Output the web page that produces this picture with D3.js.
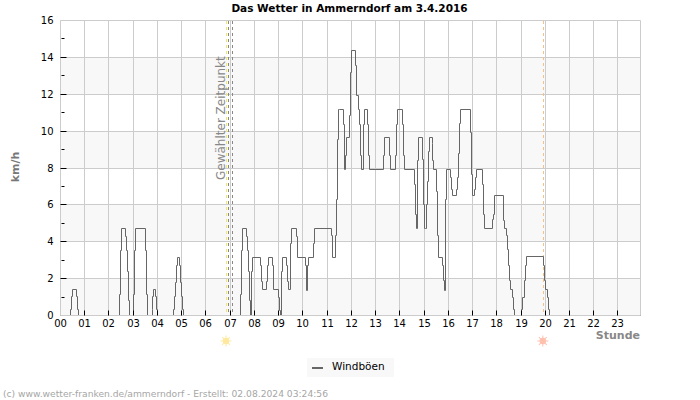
<!DOCTYPE html>
<html>
<head>
<meta charset="utf-8">
<script src="https://d3js.org/d3.v7.min.js"></script>
<style>
    html, body { margin: 0; padding: 0; background: #fff; }
    text { font-family: "DejaVu Sans", sans-serif; }
</style>
</head>
<body>
<div id="chart"></div>
<script>
// hour of day where the gust value changes
var gustHours = [0, .43, .47, .51, .67, .71, .76, 2.45, 2.49, 2.53, 2.69, 2.73, 2.78, 2.82, 2.86,
    3.02, 3.06, 3.10, 3.52, 3.56, 3.6, 3.78, 3.81, 3.85, 3.93, 3.97, 4.01,
    4.67, 4.71, 4.75, 4.79, 4.84, 4.92, 4.96, 5.0, 5.04, 5.08,
    7.43, 7.47, 7.51, 7.68, 7.72, 7.76, 7.80, 7.85, 7.885, 7.93, 8.255, 8.30, 8.34, 8.50, 8.54, 8.585,
    8.75, 8.79, 8.997, 9.038, 9.08, 9.12, 9.16, 9.33, 9.37, 9.41, 9.49, 9.53, 9.74, 9.78,
    10.11, 10.15, 10.19, 10.23, 10.44, 10.48, 11.18, 11.22, 11.35, 11.39, 11.43, 11.47, 11.51,
    11.68, 11.72, 11.76, 11.8, 11.92, 11.96, 12.0, 12.17, 12.21, 12.29, 12.33, 12.38, 12.42, 12.5, 12.54,
    12.665, 12.71, 12.75, 13.32, 13.365, 13.57, 13.61, 13.82, 13.86, 13.9, 14.11, 14.15, 14.19,
    14.60, 14.64, 14.68, 14.72, 14.77, 14.93, 14.97, 15.01, 15.05, 15.10, 15.14, 15.18, 15.22,
    15.33, 15.36, 15.4, 15.51, 15.55, 15.59, 15.755, 15.8, 15.84, 15.88, 15.92, 16.085, 16.13, 16.17,
    16.33, 16.37, 16.415, 16.46, 16.5, 16.92, 16.96, 16.99, 17.07, 17.115, 17.157, 17.40, 17.445, 17.49,
    17.82, 17.857, 17.9, 18.27, 18.31, 18.39, 18.43, 18.475, 18.52, 18.56, 18.64, 18.68, 18.72,
    19.01, 19.05, 19.13, 19.18, 19.22, 19.92, 19.96, 20.0, 20.08, 20.12, 20.165, 23.93];
var gustKmh = [0, .33, 1.03, 1.39, 1.03, .33, 0, 1.14, 3.53, 4.7, 4.29, 3.53, 2.39, .81, 0,
    1.14, 3.53, 4.7, 3.53, 1.14, 0, .33, 1.03, 1.39, 1.03, .33, 0,
    .33, 1.03, 1.8, 2.71, 3.16, 2.71, 1.8, 1.03, .33, 0,
    1.14, 3.53, 4.7, 4.29, 3.53, 2.39, .81, 0, 2.39, 3.16, 2.71, 1.86, 1.39, 1.86, 2.71, 3.16,
    2.71, 1.39, 1.0, .27, 0, 2.39, 3.16, 2.71, 1.86, 1.39, 3.89, 4.7, 4.29, 3.16,
    2.71, 1.36, 2.71, 3.16, 3.89, 4.7, 4.34, 3.16, 4.34, 6.27, 9.55, 11.16, 11.16,
    10.34, 7.9, 8.7, 9.67, 10.85, 13.16, 14.36, 13.56, 11.93, 11.16, 10.34, 8.7, 7.9, 10.34, 11.16,
    10.34, 8.7, 7.9, 8.7, 9.67, 8.7, 7.9, 8.7, 10.34, 11.16, 10.34, 8.7, 7.9,
    7.09, 5.5, 4.7, 8.4, 9.67, 8.44, 6.0, 4.7, 4.7, 6.0, 7.27, 8.9, 9.67,
    9.31, 8.41, 7.9, 6.75, 4.34, 3.16, 2.71, 1.9, 1.36, 6.27, 7.9, 7.5, 6.82, 6.49,
    6.82, 7.5, 8.77, 10.4, 11.16, 9.95, 7.65, 6.49, 6.82, 7.5, 7.9, 7.09, 5.46, 4.7,
    5.19, 5.5, 6.49, 5.15, 4.7, 4.34, 3.56, 2.71, 1.9, 1.41, 1.0, .31, 0,
    .31, 1.0, 1.9, 2.71, 3.2, 2.71, 1.9, 1.41, 1.0, .31, 0, 0];

var hourTicks = d3.range(0, 24);
var kmhTicks = [0, 2, 4, 6, 8, 10, 12, 14, 16];
var kmhMinorTicks = [1, 3, 5, 7, 9, 11, 13, 15];
var bandStarts = [0, 4, 8, 12];
var selectedHours = [6.93, 7.1];
var sunEvents = [{ hour: 6.85, color: "#ffe9a0", dash: "#f5e85c" }, { hour: 19.92, color: "#ffc0ae", dash: "#f5c08a" }];

function init()
{
    var w = 700;
    var h = 400;
    var left = 60.5, right = 640.5, top = 20.5, bottom = 315.5;

    var data = gustHours.map(function(d, i){
        return [d, gustKmh[i]];
    });

    var xScale = d3.scaleLinear().domain([0, 23.93]).range([left, right]);
    var yScale = d3.scaleLinear().domain([0, 16]).range([bottom, top]);

    // snap to the pixel grid so 1px lines stay sharp
    function sx(d) { return Math.round(xScale(d) - 0.5) + 0.5; }
    function sy(d) { return Math.round(yScale(d) - 0.5) + 0.5; }

    var svg = d3.select("#chart")
                .append("svg")
                .attr("width", w)
                .attr("height", h)
                .style("display", "block");

    // grey bands behind the grid
    svg.selectAll("rect.band")
        .data(bandStarts)
        .enter()
        .append("rect")
        .attr("class", "band")
        .attr("x", left)
        .attr("width", right - left)
        .attr("y", function(d){ return yScale(d + 2); })
        .attr("height", function(d){ return yScale(d) - yScale(d + 2); })
        .attr("fill", "#f8f8f8");

    // grid
    svg.selectAll("line.gridx")
        .data(hourTicks)
        .enter()
        .append("line")
        .attr("class", "gridx")
        .attr("x1", sx)
        .attr("x2", sx)
        .attr("y1", top)
        .attr("y2", bottom)
        .attr("stroke", "#cccccc");

    svg.selectAll("line.gridy")
        .data(kmhTicks)
        .enter()
        .append("line")
        .attr("class", "gridy")
        .attr("x1", left)
        .attr("x2", right)
        .attr("y1", sy)
        .attr("y2", sy)
        .attr("stroke", "#cccccc");

    svg.append("line")
        .attr("x1", right).attr("x2", right)
        .attr("y1", top).attr("y2", bottom)
        .attr("stroke", "#cccccc");

    // sunrise, sunset and selected time markers
    svg.selectAll("line.sunline")
        .data(sunEvents)
        .enter()
        .append("line")
        .attr("class", "sunline")
        .attr("x1", function(d){ return sx(d.hour); })
        .attr("x2", function(d){ return sx(d.hour); })
        .attr("y1", top + 0.5)
        .attr("y2", bottom)
        .attr("stroke", function(d){ return d.dash; })
        .attr("stroke-dasharray", "3,3");

    svg.selectAll("line.selected")
        .data(selectedHours)
        .enter()
        .append("line")
        .attr("class", "selected")
        .attr("x1", sx)
        .attr("x2", sx)
        .attr("y1", top + 0.5)
        .attr("y2", bottom)
        .attr("stroke", "#888888")
        .attr("stroke-dasharray", "3,3");

    svg.append("text")
        .attr("transform", "translate(" + (xScale(selectedHours[0]) - 3) + "," + 180 + ") rotate(-90)")
        .attr("font-size", 12)
        .attr("fill", "#888888")
        .text("Gewählter Zeitpunkt");

    // the gusts as a step line
    var line = d3.line()
        .x(function(d){ return sx(d[0]); })
        .y(function(d){ return sy(d[1]); })
        .curve(d3.curveStepAfter);

    svg.append("path")
        .datum(data)
        .attr("d", line)
        .attr("fill", "none")
        .attr("stroke", "#666666")
        .attr("stroke-width", 1);

    // axes, ticks point into the plot
    var xAxis = d3.axisBottom(xScale)
        .tickValues(hourTicks)
        .tickSize(-5)
        .tickSizeOuter(0)
        .tickPadding(4.5)
        .offset(0)
        .tickFormat(d3.format("02d"));
    var yAxis = d3.axisLeft(yScale)
        .tickValues(kmhTicks)
        .tickSize(-6)
        .tickSizeOuter(0)
        .tickPadding(7)
        .offset(0)
        .tickFormat(d3.format("d"));
    var yMinor = d3.axisLeft(yScale)
        .tickValues(kmhMinorTicks)
        .tickSize(-3)
        .tickSizeOuter(0)
        .offset(0)
        .tickFormat("");

    var gx = svg.append("g")
        .attr("transform", "translate(0," + bottom + ")")
        .call(xAxis);
    var gy = svg.append("g")
        .attr("transform", "translate(" + left + ",0)")
        .call(yAxis);
    var gm = svg.append("g")
        .attr("transform", "translate(" + (left + 1) + ",0)")
        .call(yMinor);

    gx.selectAll(".tick").attr("transform", function(d){ return "translate(" + sx(d) + ",0)"; });
    gy.selectAll(".tick").attr("transform", function(d){ return "translate(0," + sy(d) + ")"; });
    gm.selectAll(".tick").attr("transform", function(d){ return "translate(0," + sy(d) + ")"; });

    gx.select(".domain").attr("stroke", "#cccccc");
    gy.select(".domain").attr("stroke", "#cccccc");
    gm.select(".domain").remove();
    gx.selectAll(".tick").filter(function(d){ return d === 0; }).select("line").remove();
    gy.selectAll(".tick").filter(function(d){ return d === 0 || d === 16; }).select("line").remove();
    gx.selectAll("text").attr("font-family", "DejaVu Sans").attr("font-size", 10).attr("fill", "#000");
    gy.selectAll("text").attr("font-family", "DejaVu Sans").attr("font-size", 10).attr("fill", "#000");

    // sun icons under the axis
    var rays = d3.range(0, 360, 45);
    var suns = svg.selectAll("g.sun")
        .data(sunEvents)
        .enter()
        .append("g")
        .attr("class", "sun")
        .attr("transform", function(d){ return "translate(" + (xScale(d.hour) - 0.5) + ",341)"; });
    suns.append("circle")
        .attr("r", 3.2)
        .attr("fill", function(d){ return d.color; });
    suns.selectAll("line")
        .data(function(d){
            return rays.map(function(a){ return { angle: a, color: d.color }; });
        })
        .enter()
        .append("line")
        .attr("x2", 5.5)
        .attr("transform", function(d){ return "rotate(" + d.angle + ")"; })
        .attr("stroke", function(d){ return d.color; })
        .attr("stroke-width", 1);

    // titles
    svg.append("text")
        .attr("x", 349.5)
        .attr("y", 12)
        .attr("text-anchor", "middle")
        .attr("font-size", 10.5)
        .attr("font-weight", "bold")
        .attr("fill", "#000")
        .text("Das Wetter in Ammerndorf am 3.4.2016");

    svg.append("text")
        .attr("transform", "translate(19,167) rotate(-90)")
        .attr("text-anchor", "middle")
        .attr("font-size", 11)
        .attr("font-weight", "bold")
        .attr("fill", "#777777")
        .text("km/h");

    svg.append("text")
        .attr("x", 640)
        .attr("y", 338.5)
        .attr("text-anchor", "end")
        .attr("font-size", 11)
        .attr("font-weight", "bold")
        .attr("fill", "#888888")
        .text("Stunde");

    // legend
    svg.append("rect")
        .attr("x", 307)
        .attr("y", 358)
        .attr("width", 87)
        .attr("height", 19)
        .attr("fill", "#f8f8f8");
    svg.append("line")
        .attr("x1", 312).attr("x2", 323)
        .attr("y1", 368).attr("y2", 368)
        .attr("stroke", "#666666")
        .attr("stroke-width", 2);
    svg.append("text")
        .attr("x", 332)
        .attr("y", 370)
        .attr("font-size", 10.5)
        .attr("fill", "#000")
        .text("Windböen");

    svg.append("text")
        .attr("x", 3)
        .attr("y", 396.5)
        .attr("font-size", 9.17)
        .attr("fill", "#a6a6a6")
        .text("(c) www.wetter-franken.de/ammerndorf - Erstellt: 02.08.2024 03:24:56");
}
window.onload = init;
</script>
</body>
</html>
